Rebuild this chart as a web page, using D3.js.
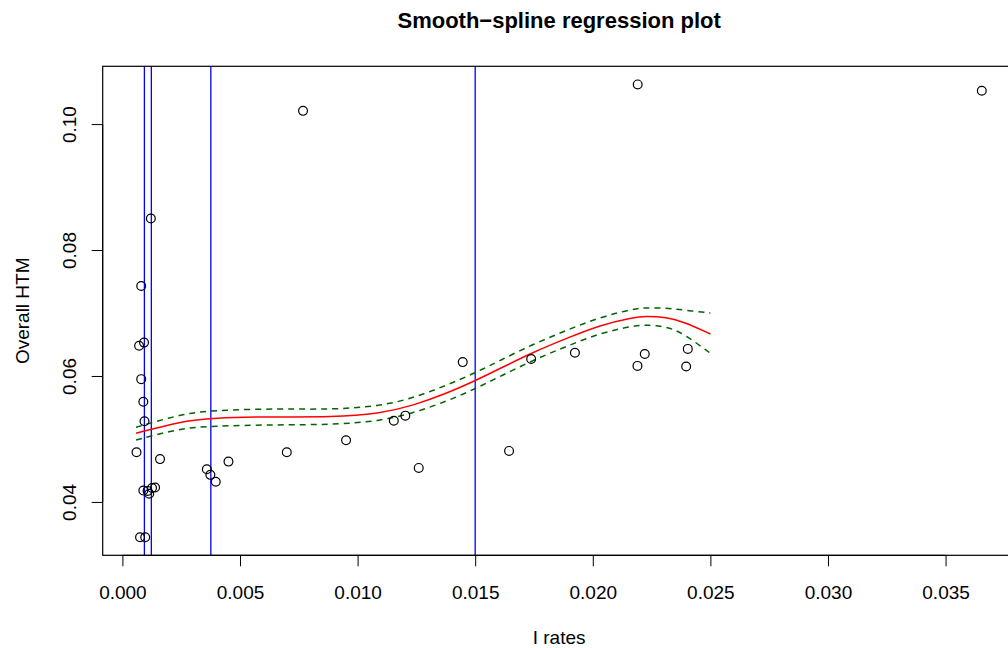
<!DOCTYPE html>
<html>
<head>
	<title>Smooth-spline regression plot</title>
	<style type="text/css">
		body {
			margin: 0;
			background: #fff;
			font-family: "Liberation Sans", Arial, Helvetica, sans-serif;
		}

		.point {
			fill: none;
			stroke: #000;
			stroke-width: 1.2;
		}

		.fit {
			fill: none;
			stroke: #ff0000;
			stroke-width: 1.5;
		}

		.band {
			fill: none;
			stroke: #006400;
			stroke-width: 1.5;
			stroke-dasharray: 6 5;
		}

		.knot {
			stroke: #0000ff;
			stroke-width: 1.3;
		}

		.axis text {
			font-size: 19px;
			fill: #000;
		}

		.axis line {
			stroke: #000;
		}
	</style>
</head>
<body>
	<div id="chart"></div>
	<script src="https://cdnjs.cloudflare.com/ajax/libs/d3/7.8.5/d3.min.js"></script>
	<script type="text/javascript">
		// observed points (I rates vs Overall HTM)
		var rates = [0.00075, 0.00097, 0.00060, 0.00160, 0.00089, 0.00107, 0.00114, 0.00126, 0.00139,
			0.00094, 0.00089, 0.00080, 0.00071, 0.00092, 0.00080, 0.00121, 0.00768, 0.00359,
			0.00374, 0.00397, 0.00451, 0.00699, 0.00951, 0.01154, 0.01203, 0.01260, 0.01447,
			0.01644, 0.01738, 0.01924, 0.02190, 0.02221, 0.02397, 0.02404, 0.02191, 0.03654];
		var htm = [0.0344, 0.0344, 0.0479, 0.0468, 0.0418, 0.04175, 0.0413, 0.0422, 0.0423,
			0.0528, 0.0559, 0.0595, 0.0648, 0.0653, 0.0743, 0.0850, 0.1021, 0.0452,
			0.0443, 0.0432, 0.0464, 0.0479, 0.0498, 0.0529, 0.0537, 0.0454, 0.0622,
			0.0481, 0.0627, 0.0637, 0.0616, 0.0635, 0.0615, 0.0643, 0.1063, 0.1053];

		// fitted spline and its band, read on a grid
		var gridX = [0.00058, 0.00245, 0.00376, 0.00670, 0.00883, 0.01096, 0.01236, 0.01379, 0.01501,
			0.01606, 0.01747, 0.01889, 0.02031, 0.02173, 0.02222, 0.02315, 0.02385, 0.02500];
		var fitY = [0.05090, 0.05275, 0.05338, 0.05354, 0.05345, 0.05402, 0.05530, 0.05725, 0.05925,
			0.06120, 0.06380, 0.06598, 0.06810, 0.06929, 0.06950, 0.06932, 0.06862, 0.06667];
		var upperY = [0.05185, 0.05389, 0.05456, 0.05481, 0.05465, 0.05521, 0.05649, 0.05852, 0.06052,
			0.06247, 0.06507, 0.06725, 0.06937, 0.07063, 0.07085, 0.07079, 0.07048, 0.07000];
		var lowerY = [0.04984, 0.05167, 0.05206, 0.05227, 0.05225, 0.05283, 0.05411, 0.05598, 0.05798,
			0.05993, 0.06253, 0.06471, 0.06683, 0.06794, 0.06815, 0.06784, 0.06678, 0.06360];

		// vertical reference lines
		var knots = [0.000935, 0.00123, 0.00376, 0.015];

		var xTicks = [0, 0.005, 0.010, 0.015, 0.020, 0.025, 0.030, 0.035];
		var yTicks = [0.04, 0.06, 0.08, 0.10];

		var width = 1008,
			height = 648,
			plotLeft = 102.7,
			plotTop = 66.3,
			plotW = 912.9,
			plotH = 489;

		var svg = d3.select('#chart')
			.append('svg')
			.attr('width', width)
			.attr('height', height)
			.style('display', 'block');

		svg.append('rect').attr('width', width).attr('height', height).attr('fill', '#fff');

		// R style domains: data range stretched by 4%
		function pad(ext) {
			var d = (ext[1] - ext[0]) * 0.04;
			return [ext[0] - d, ext[1] + d];
		}

		var x = d3.scaleLinear().domain(pad(d3.extent(rates))).range([plotLeft, plotLeft + plotW]),
			y = d3.scaleLinear().domain(pad(d3.extent(htm))).range([plotTop + plotH, plotTop]);

		svg.append('clipPath').attr('id', 'plotclip')
			.append('rect')
			.attr('x', plotLeft).attr('y', plotTop)
			.attr('width', plotW).attr('height', plotH);

		// vertical lines
		svg.append('g')
			.attr('clip-path', 'url(#plotclip)')
			.selectAll('line')
			.data(knots)
			.enter()
			.append('line')
			.attr('class', 'knot')
			.attr('x1', function(d) { return x(d); })
			.attr('x2', function(d) { return x(d); })
			.attr('y1', plotTop)
			.attr('y2', plotTop + plotH);

		var line = d3.line().curve(d3.curveBasis);

		function series(ys) {
			return gridX.map(function(d, i) { return [x(d), y(ys[i])]; });
		}

		svg.append('path').attr('class', 'band').attr('d', line(series(upperY)));
		svg.append('path').attr('class', 'band').attr('d', line(series(lowerY)));
		svg.append('path').attr('class', 'fit').attr('d', line(series(fitY)));

		// points
		svg.append('g')
			.selectAll('circle')
			.data(rates)
			.enter()
			.append('circle')
			.attr('class', 'point')
			.attr('r', 4.4)
			.attr('cx', function(d) { return x(d); })
			.attr('cy', function(d, i) { return y(htm[i]); });

		// box
		svg.append('rect')
			.attr('x', plotLeft).attr('y', plotTop)
			.attr('width', plotW).attr('height', plotH)
			.attr('fill', 'none')
			.attr('stroke', '#000')
			.attr('stroke-width', 1.2);

		// x axis
		var gx = svg.append('g')
			.attr('class', 'axis')
			.attr('transform', 'translate(0,' + (plotTop + plotH) + ')')
			.call(d3.axisBottom(x).tickValues(xTicks).tickSize(11).tickFormat(d3.format('.3f')));
		gx.select('.domain').remove();
		gx.append('line')
			.attr('x1', x(xTicks[0])).attr('x2', x(xTicks[xTicks.length - 1]))
			.attr('stroke', '#000');
		gx.selectAll('text')
			.attr('y', 44)
			.attr('dy', 0)
			.style('font-family', '"Liberation Sans", Arial, sans-serif');

		// y axis
		var gy = svg.append('g')
			.attr('class', 'axis')
			.attr('transform', 'translate(' + plotLeft + ',0)')
			.call(d3.axisLeft(y).tickValues(yTicks).tickSize(11).tickFormat(d3.format('.2f')));
		gy.select('.domain').remove();
		gy.append('line')
			.attr('y1', y(yTicks[0])).attr('y2', y(yTicks[yTicks.length - 1]))
			.attr('stroke', '#000');
		gy.selectAll('text')
			.attr('transform', 'rotate(-90)')
			.attr('x', 0)
			.attr('y', -27)
			.attr('dy', 0)
			.style('text-anchor', 'middle')
			.style('font-family', '"Liberation Sans", Arial, sans-serif');

		// titles
		svg.append('text')
			.attr('x', plotLeft + plotW / 2)
			.attr('y', 28)
			.attr('text-anchor', 'middle')
			.style('font-size', '22px')
			.style('font-weight', 'bold')
			.text('Smooth\u2212spline regression plot');

		svg.append('text')
			.attr('x', plotLeft + plotW / 2)
			.attr('y', 644)
			.attr('text-anchor', 'middle')
			.style('font-size', '19px')
			.text('I rates');

		svg.append('text')
			.attr('transform', 'translate(29,' + (plotTop + plotH / 2) + ') rotate(-90)')
			.attr('text-anchor', 'middle')
			.style('font-size', '19px')
			.text('Overall HTM');
	</script>
</body>
</html>
